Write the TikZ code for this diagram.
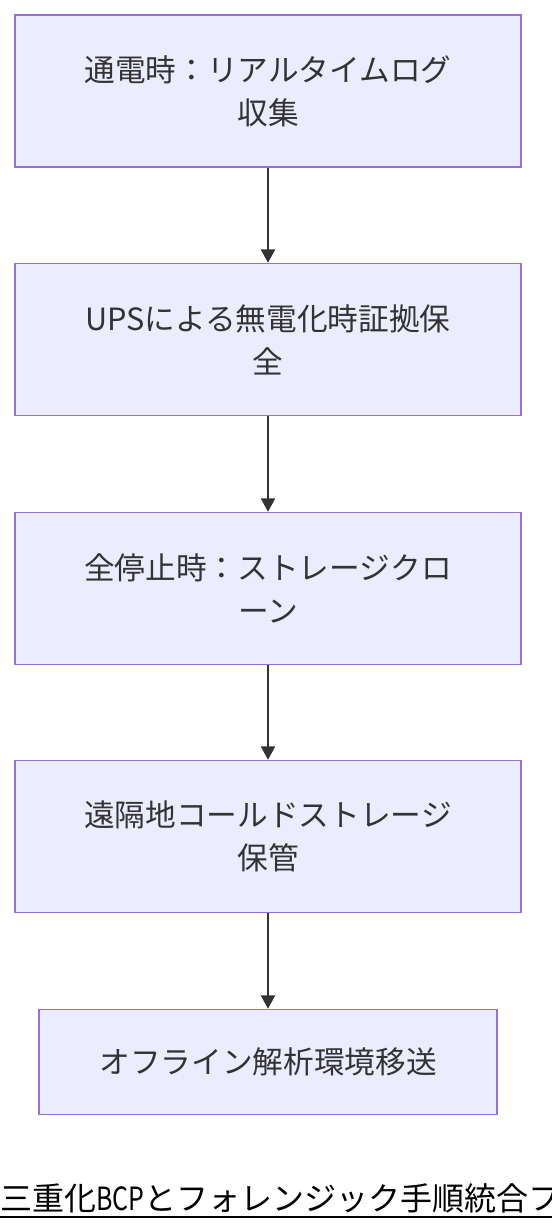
\documentclass[tikz,border=0pt]{standalone}
\usepackage{fontspec}
\usepackage{graphicx}
\setmainfont{Noto Sans CJK JP}
\newfontfamily\cjk{Noto Sans CJK JP}
\usetikzlibrary{arrows.meta}
\definecolor{boxfill}{HTML}{ECECFF}
\definecolor{boxline}{HTML}{9370DB}
\definecolor{ink}{HTML}{333333}
\tikzset{
  stepbox/.style={draw=boxline, fill=boxfill, line width=1.1pt, rectangle,
    minimum width=379.5pt, minimum height=114pt, inner sep=0pt,
    align=center, text=ink, font=\cjk\fontsize{23pt}{32.25pt}\selectfont},
  flow/.style={draw=ink, line width=1.5pt, -{Triangle[width=10.5pt,length=10pt]}}
}
\begin{document}
\begin{tikzpicture}[x=0.75pt,y=-0.75pt]
\clip (0,0) rectangle (552,1228);
\fill[white] (0,0) rectangle (552,1228);
\node[stepbox] (b1) at (268,91) {通電時：リアルタイムログ\\収集};
\node[stepbox] (b2) at (268,339.5) {UPSによる無電化時証拠保\\全};
\node[stepbox] (b3) at (268,588.5) {全停止時：ストレージクロ\\ーン};
\node[stepbox] (b4) at (268,836.5) {遠隔地コールドストレージ\\保管};
\node[stepbox, minimum width=343.5pt, minimum height=78.75pt] (b5) at (268,1062) {オフライン解析環境移送};
\draw[flow] (b1.south) -- (b2.north);
\draw[flow] (b2.south) -- (b3.north);
\draw[flow] (b3.south) -- (b4.north);
\draw[flow] (b4.south) -- (b5.north);
\node[anchor=base west, inner sep=0pt, text=black, font=\cjk\fontsize{24pt}{28pt}\selectfont] (title) at (0,1210) {三重化\scalebox{0.78}[1]{BCP}とフォレンジック手順統合フ};
\draw[black, line width=1.5pt] (0,1217) -- (552,1217);
\end{tikzpicture}
\end{document}
